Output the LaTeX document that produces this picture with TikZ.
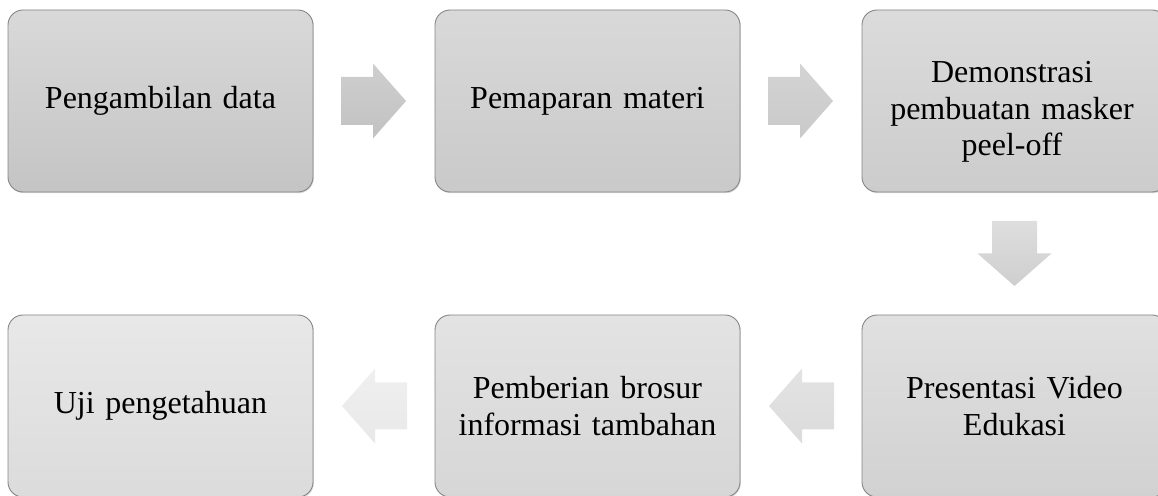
\documentclass[tikz,border=0pt]{standalone}
\usepackage{fontspec}
\setmainfont{Liberation Serif}
\usetikzlibrary{calc,shadows}
\tikzset{
  box/.style={draw=black!48, line width=0.9pt, rounded corners=15pt,
    minimum width=305pt, minimum height=182pt, text width=290pt,
    align=center, inner sep=0pt, font=\fontsize{32}{36.5}\selectfont,
    drop shadow={shadow xshift=0.8pt, shadow yshift=-1.2pt, opacity=0.3}},
  txt/.style={align=center, inner sep=0pt, text width=290pt,
    font=\fontsize{32}{36.5}\selectfont},
  rarrow/.pic={\path[pic actions] (-33,-24) -- (-1,-24) -- (-1,-37.5) -- (32,0)
      -- (-1,37.5) -- (-1,24) -- (-33,24) -- cycle;},
  larrow/.pic={\path[pic actions] (33,-23.5) -- (1,-23.5) -- (1,-37.5) -- (-32,0)
      -- (1,37.5) -- (1,23.5) -- (33,23.5) -- cycle;},
  darrow/.pic={\path[pic actions] (-22.5,32.5) -- (22.5,32.5) -- (22.5,0) -- (37,0)
      -- (0,-32.5) -- (-37,0) -- (-22.5,0) -- cycle;},
}
\begin{document}
\begin{tikzpicture}[x=1pt,y=1pt]
\useasboundingbox (0,0) rectangle (1158,495);
\clip (0,0) rectangle (1158,495);
% top row
\node[box, top color=black!15, bottom color=black!23] (b1) at (160.5,394) {Pengambilan data};
\node[box, top color=black!15, bottom color=black!21] (b2) at (587.5,394) {Pemaparan materi};
\node[box, top color=black!14, bottom color=black!20] (b3) at (1014.5,394) {};
\node[txt] (t3) at (1012,383) {Demonstrasi\\pembuatan masker\\peel-off};
% bottom row
\node[box, top color=black!12, bottom color=black!18] (b4) at (1014.5,89) {Presentasi Video\\Edukasi};
\node[box, top color=black!11, bottom color=black!16] (b5) at (587.5,89) {Pemberian brosur\\informasi tambahan};
\node[box, top color=black!9, bottom color=black!14] (b6) at (160.5,89) {Uji pengetahuan};
% arrows
\pic[top color=black!19, bottom color=black!24] at ($(b1.east)!0.5!(b2.west)$) {rarrow};
\pic[top color=black!17, bottom color=black!21] at ($(b2.east)!0.5!(b3.west)$) {rarrow};
\pic[top color=black!13, bottom color=black!19] at ($(b3.south)!0.5!(b4.north)$) {darrow};
\pic[top color=black!11, bottom color=black!14] at ($(b4.west)!0.5!(b5.east)$) {larrow};
\pic[top color=black!6, bottom color=black!9] at ($(b5.west)!0.5!(b6.east)$) {larrow};
\end{tikzpicture}
\end{document}
